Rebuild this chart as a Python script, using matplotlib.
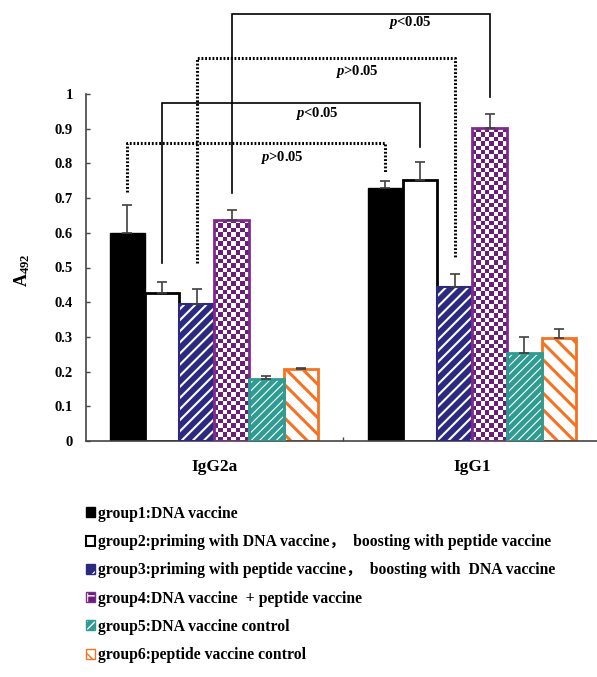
import numpy as np
import matplotlib
matplotlib.use("Agg")
import matplotlib.pyplot as plt
from matplotlib.patches import Patch
from matplotlib.colors import ListedColormap

# ---------------- data ----------------
categories = ["IgG2a", "IgG1"]
groups = ["group1:DNA vaccine",
          "group2:priming with DNA vaccine\uff0c  boosting with peptide vaccine",
          "group3:priming with peptide vaccine\uff0c  boosting with  DNA vaccine",
          "group4:DNA vaccine  + peptide vaccine",
          "group5:DNA vaccine control",
          "group6:peptide vaccine control"]
igg2a_mean = [0.599, 0.426, 0.395, 0.637, 0.178, 0.207]
igg2a_err = [0.081, 0.032, 0.043, 0.029, 0.009, 0.002]
igg1_mean = [0.729, 0.752, 0.443, 0.902, 0.254, 0.297]
igg1_err = [0.020, 0.052, 0.039, 0.040, 0.046, 0.025]
y_ticks = [0, 0.1, 0.2, 0.3, 0.4, 0.5, 0.6, 0.7, 0.8, 0.9, 1]
y_tick_labels = ["0", "0.1", "0.2", "0.3", "0.4", "0.5", "0.6", "0.7", "0.8", "0.9", "1"]

# significance brackets: group index compared between IgG2a and IgG1
bracket_group = [0, 1, 2, 3]
bracket_top = [0.859, 0.974, 1.104, 1.231]
bracket_label = ["p>0.05", "p<0.05", "p>0.05", "p<0.05"]
bracket_dotted = [True, False, True, False]

# ---------------- style ----------------
plt.rcParams["mathtext.fontset"] = "custom"
plt.rcParams["mathtext.rm"] = "Liberation Serif:bold"
plt.rcParams["mathtext.it"] = "Liberation Serif:italic:bold"
plt.rcParams["mathtext.bf"] = "Liberation Serif:bold"
SERIF = ["Liberation Serif", "Noto Sans CJK SC", "DejaVu Sans"]

navy = "#2C2A80"
purple = "#7E2A8E"
purple_dark = "#6A1E7A"
teal = "#2E9C92"
orange = "#F37323"
bar_w = 0.1347
left_gap = [0.038, 0.055, 0.075, 0.050]
right_gap = [0.023, 0.043, 0.045, 0.050]
label_dx = [0.60, 0.60, 0.62, 0.69]
label_dy = [0.041, 0.029, 0.038, 0.026]

fig = plt.figure(figsize=(5.97, 6.77), dpi=100)
ax = fig.add_axes([86 / 597, 236 / 677, 511 / 597, 347 / 677])
XLIM = (-0.497, 1.4836)
YLIM = (0, 1)
ax.set_xlim(*XLIM)
ax.set_ylim(*YLIM)

x_centers = np.arange(len(categories))
means = [igg2a_mean, igg1_mean]
errs = [igg2a_err, igg1_err]


def set_hlw(p, lw):
    if hasattr(p, "set_hatch_linewidth"):
        p.set_hatch_linewidth(lw)


def checker(bar, c1, c2, cell_px=4.4):
    x0, y0 = bar.get_x(), bar.get_y()
    w, h = bar.get_width(), bar.get_height()
    (px0, py0), (px1, py1) = ax.transData.transform([(x0, y0), (x0 + w, y0 + h)])
    nx = max(1, int(round((px1 - px0) / cell_px)))
    ny = max(1, int(round((py1 - py0) / cell_px)))
    arr = np.add.outer(np.arange(ny), np.arange(nx)) % 2
    im = ax.imshow(arr, extent=(x0, x0 + w, y0, y0 + h), origin="lower",
                   cmap=ListedColormap([c1, c2]), interpolation="nearest",
                   aspect="auto", zorder=2)
    im.set_clip_path(bar)


bar_x = {}
for ci, xc in enumerate(x_centers):
    for gi in range(6):
        x = xc + (gi - 2.5) * bar_w
        bar_x[(ci, gi)] = x
        v = means[ci][gi]
        if gi == 0:
            ax.bar(x, v, bar_w, color="black", edgecolor="black", lw=1, zorder=2)
        elif gi == 1:
            ax.bar(x, v, bar_w, color="white", edgecolor="black", lw=2, zorder=2)
        elif gi == 2:
            b = ax.bar(x, v, bar_w, color=navy, edgecolor="white", hatch="///", lw=0, zorder=2)
            for p in b:
                set_hlw(p, 1.5)
            ax.bar(x, v, bar_w, color="none", edgecolor=navy, lw=1.5, zorder=3)
        elif gi == 3:
            b = ax.bar(x, v, bar_w, color="white", edgecolor="none", lw=0, zorder=2)
            for p in b:
                checker(p, "white", purple_dark)
            ax.bar(x, v, bar_w, color="none", edgecolor=purple, lw=2, zorder=3)
        elif gi == 4:
            b = ax.bar(x, v, bar_w, color=teal, edgecolor="white", hatch="////", lw=0, zorder=2)
            for p in b:
                set_hlw(p, 0.8)
            ax.bar(x, v, bar_w, color="none", edgecolor=teal, lw=2, zorder=3)
        else:
            b = ax.bar(x, v, bar_w, color="white", edgecolor=orange, hatch="\\\\", lw=2, zorder=2)
            for p in b:
                set_hlw(p, 2.2)

    xs = [bar_x[(ci, g)] for g in range(6)]
    ax.errorbar(xs, means[ci], yerr=[np.zeros(6), errs[ci]], fmt="none",
                ecolor="#404040", elinewidth=1.2, capsize=3.6, capthick=1.2, zorder=4)

ax.set_xlim(*XLIM)
ax.set_ylim(*YLIM)

# brackets
for k, g in enumerate(bracket_group):
    xl = bar_x[(0, g)]
    xr = bar_x[(1, g)]
    yl = igg2a_mean[g] + igg2a_err[g] + left_gap[k]
    yr = igg1_mean[g] + igg1_err[g] + right_gap[k]
    top = bracket_top[k]
    if bracket_dotted[k]:
        ax.plot([xl, xl, xr, xr], [yl, top, top, yr], color="black", lw=2.2,
                linestyle=(0, (0.6, 0.6)), clip_on=False, zorder=1,
                solid_joinstyle="miter", dash_capstyle="butt")
    else:
        ax.plot([xl, xl, xr, xr], [yl, top, top, yr], color="black", lw=1.2,
                clip_on=False, zorder=1, solid_joinstyle="miter")
    txt = "$p$" + bracket_label[k][1:]
    ax.text(xl + label_dx[k], top - label_dy[k], txt, ha="center", va="center",
            fontsize=10.5, fontweight="bold", family=SERIF, clip_on=False)

# axes styling
for s in ["top", "right"]:
    ax.spines[s].set_visible(False)
for s in ["left", "bottom"]:
    ax.spines[s].set_color("#444444")
    ax.spines[s].set_linewidth(1.2)

ax.set_yticks(y_ticks)
ax.set_yticklabels(y_tick_labels, fontsize=10.5, fontweight="bold", family=SERIF)
ax.tick_params(axis="y", direction="in", length=3, width=1, color="#444444", pad=9.5)
ax.set_xticks(x_centers)
ax.set_xticklabels(categories, fontsize=12.5, fontweight="bold", family=SERIF)
ax.tick_params(axis="x", which="major", length=0, pad=13)
ax.set_xticks([0.5], minor=True)
ax.tick_params(axis="x", which="minor", direction="in", length=3, width=1, color="#444444")

fig.text(22 / 597, 1 - 270 / 677, r"$\mathregular{A_{492}}$", rotation=90,
         ha="center", va="center", fontsize=13, fontweight="bold", family=SERIF)

# legend
handles = [
    Patch(facecolor="black", edgecolor="black"),
    Patch(facecolor="white", edgecolor="black", lw=1.5),
    (Patch(facecolor=navy, edgecolor="white", hatch="//", lw=0), Patch(facecolor="none", edgecolor=navy, lw=1)),
    (Patch(facecolor=purple_dark, edgecolor="white", hatch="++", lw=0), Patch(facecolor="none", edgecolor=purple, lw=1)),
    (Patch(facecolor=teal, edgecolor="white", hatch="////", lw=0), Patch(facecolor="none", edgecolor=teal, lw=1)),
    Patch(facecolor="white", edgecolor=orange, hatch="\\\\", lw=1),
]
leg = fig.legend(handles, groups, loc="upper left", bbox_to_anchor=(86 / 597, 1 - 506 / 677),
                 frameon=False, borderpad=0, borderaxespad=0, handlelength=0.6,
                 handleheight=0.6, handletextpad=0.15, labelspacing=0.78,
                 prop={"family": SERIF, "weight": "bold", "size": 11.3})

fig.savefig("out.png", dpi=100)
